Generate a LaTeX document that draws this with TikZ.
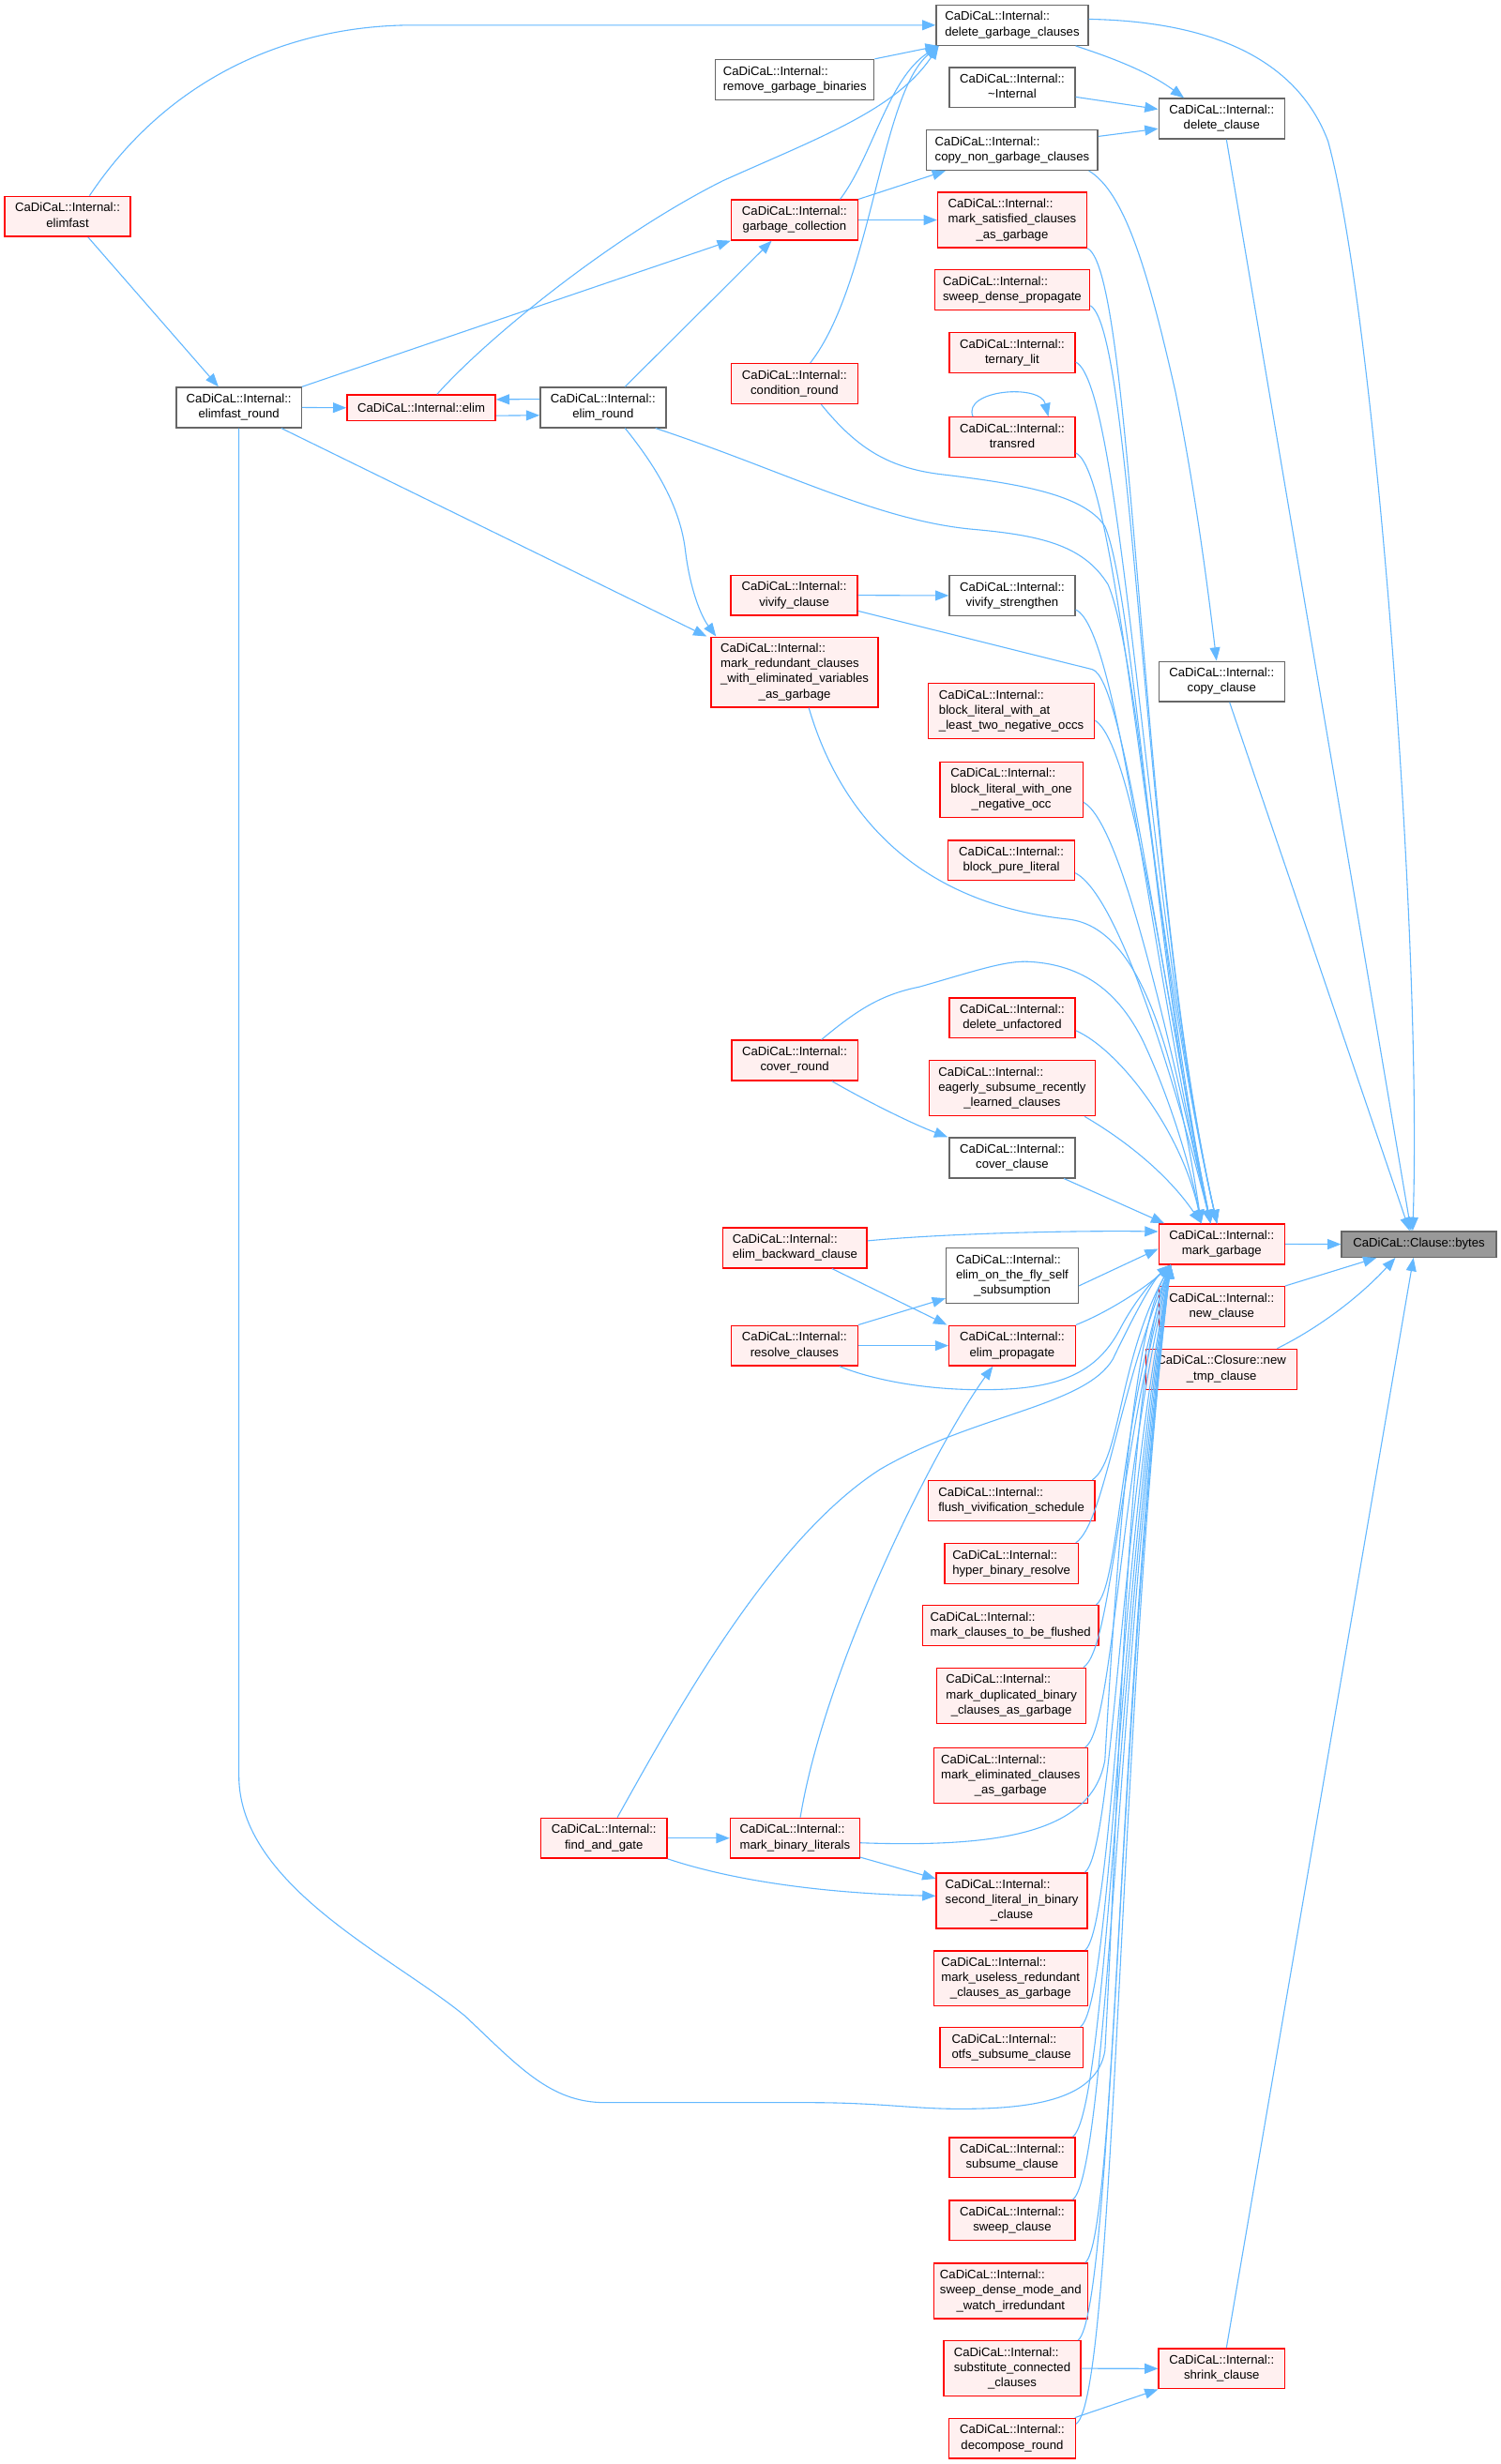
\documentclass[tikz,border=0pt]{standalone}
\usepackage{fontspec}
\setmainfont{Liberation Sans}
\usetikzlibrary{arrows.meta}
\definecolor{edgec}{HTML}{63B8FF}
\definecolor{redfill}{HTML}{FFF0F0}
\definecolor{grayb}{HTML}{666666}
\definecolor{bytesfill}{HTML}{999999}
\newcommand{\dlab}[2]{\begin{tabular}{@{}l@{}}#1\\\multicolumn{1}{@{}c@{}}{#2}\end{tabular}}
\begin{document}
\begin{tikzpicture}[x=1pt,y=-1pt,
  nd/.style={draw, line width=0.8pt, inner sep=0pt, font=\fontsize{7.85}{9.7}\selectfont, text=black},
  gn/.style={nd, draw=grayb, fill=white},
  rn/.style={nd, draw=red, fill=redfill},
  wd/.style={minimum width=#1pt},
  hone/.style={minimum height=16.3pt},
  htwo/.style={minimum height=25.6pt},
  hthree/.style={minimum height=35.2pt},
  hfour/.style={minimum height=44.6pt},
  cnx/.style={draw=edgec, line width=0.65pt, -{Triangle[length=8.5pt,width=6.5pt]}}]
\useasboundingbox (0,0) rectangle (955,1568);
\fill[white] (0,0) rectangle (955,1568);

% ---------- nodes ----------
\node[nd, draw=grayb, fill=bytesfill, wd=98.4, minimum height=16.4pt] (by) at (902.8,791.8) {CaDiCaL::Clause::bytes};
\node[rn, wd=80.1, htwo] (mg) at (777.3,791.7) {\dlab{CaDiCaL::Internal::}{mark\_garbage}};
\node[rn, wd=80.1, htwo] (nc) at (777.3,831.5) {\dlab{CaDiCaL::Internal::}{new\_clause}};
\node[rn, wd=96, htwo] (ntc) at (777.2,871.3) {\dlab{CaDiCaL::Closure::new}{\_tmp\_clause}};
\node[rn, wd=80.2, htwo] (shc) at (777.3,1507.3) {\dlab{CaDiCaL::Internal::}{shrink\_clause}};
\node[gn, wd=80.1, htwo] (cc) at (777.3,433.7) {\dlab{CaDiCaL::Internal::}{copy\_clause}};
\node[gn, wd=80.1, htwo] (dc) at (777.3,75.5) {\dlab{CaDiCaL::Internal::}{delete\_clause}};

\node[gn, wd=96.7, htwo] (dgc) at (644,16) {\dlab{CaDiCaL::Internal::}{delete\_garbage\_clauses}};
\node[gn, wd=80, htwo] (inl) at (644,55.7) {\dlab{CaDiCaL::Internal::}{\textasciitilde Internal}};
\node[gn, wd=108.8, htwo] (cng) at (644,95.5) {\dlab{CaDiCaL::Internal::}{copy\_non\_garbage\_clauses}};
\node[rn, wd=94.8, hthree] (msc) at (644,140) {\dlab{CaDiCaL::Internal::\\mark\_satisfied\_clauses}{\_as\_garbage}};
\node[rn, wd=98.8, htwo] (sdp) at (644,184.5) {\dlab{CaDiCaL::Internal::}{sweep\_dense\_propagate}};
\node[rn, wd=80, htwo] (tl) at (644,224.4) {\dlab{CaDiCaL::Internal::}{ternary\_lit}};
\node[rn, wd=80, htwo] (tr) at (644,278.3) {\dlab{CaDiCaL::Internal::}{transred}};
\node[gn, wd=80, htwo] (vs) at (644,379) {\dlab{CaDiCaL::Internal::}{vivify\_strengthen}};
\node[rn, wd=105.8, hthree] (bla) at (643.5,452.5) {\dlab{CaDiCaL::Internal::\\block\_literal\_with\_at}{\_least\_two\_negative\_occs}};
\node[rn, wd=91, hthree] (blo) at (643.5,502.5) {\dlab{CaDiCaL::Internal::\\block\_literal\_with\_one}{\_negative\_occ}};
\node[rn, wd=80.5, htwo] (bpl) at (643.5,547.5) {\dlab{CaDiCaL::Internal::}{block\_pure\_literal}};
\node[rn, wd=80.1, htwo] (du) at (644,647.8) {\dlab{CaDiCaL::Internal::}{delete\_unfactored}};
\node[rn, wd=105.4, hthree] (eag) at (644,692.5) {\dlab{CaDiCaL::Internal::\\eagerly\_subsume\_recently}{\_learned\_clauses}};
\node[gn, wd=80.1, htwo] (cvc) at (644,736.8) {\dlab{CaDiCaL::Internal::}{cover\_clause}};
\node[gn, wd=84, hthree] (eotf) at (644,811.8) {\dlab{CaDiCaL::Internal::\\elim\_on\_the\_fly\_self}{\_subsumption}};
\node[rn, wd=80.3, htwo] (ep) at (644,856.3) {\dlab{CaDiCaL::Internal::}{elim\_propagate}};
\node[rn, wd=106, htwo] (fvs) at (643.5,955) {\dlab{CaDiCaL::Internal::}{flush\_vivification\_schedule}};
\node[rn, wd=85, htwo] (hbr) at (643.5,995) {\dlab{CaDiCaL::Internal::}{hyper\_binary\_resolve}};
\node[rn, wd=112, htwo] (mcf) at (643,1034.5) {\dlab{CaDiCaL::Internal::}{mark\_clauses\_to\_be\_flushed}};
\node[rn, wd=95, hthree] (mdb) at (643.5,1079) {\dlab{CaDiCaL::Internal::\\mark\_duplicated\_binary}{\_clauses\_as\_garbage}};
\node[rn, wd=98, hthree] (mec) at (643,1130) {\dlab{CaDiCaL::Internal::\\mark\_eliminated\_clauses}{\_as\_garbage}};
\node[rn, wd=96.1, hthree] (slb) at (643.8,1209.5) {\dlab{CaDiCaL::Internal::\\second\_literal\_in\_binary}{\_clause}};
\node[rn, wd=98, hthree] (mur) at (643,1259) {\dlab{CaDiCaL::Internal::\\mark\_useless\_redundant}{\_clauses\_as\_garbage}};
\node[rn, wd=91, htwo] (otfs) at (643.5,1303) {\dlab{CaDiCaL::Internal::}{otfs\_subsume\_clause}};
\node[rn, wd=80, htwo] (sub) at (644,1373) {\dlab{CaDiCaL::Internal::}{subsume\_clause}};
\node[rn, wd=80, htwo] (swc) at (644,1413) {\dlab{CaDiCaL::Internal::}{sweep\_clause}};
\node[rn, wd=98, hthree] (sdm) at (643,1457.9) {\dlab{CaDiCaL::Internal::\\sweep\_dense\_mode\_and}{\_watch\_irredundant}};
\node[rn, wd=87.1, hthree] (scc) at (644,1507.2) {\dlab{CaDiCaL::Internal::\\substitute\_connected}{\_clauses}};
\node[rn, wd=80.3, htwo] (dr) at (644,1551.7) {\dlab{CaDiCaL::Internal::}{decompose\_round}};

\node[gn, wd=100.9, htwo] (rgb) at (505.7,50.7) {\dlab{CaDiCaL::Internal::}{remove\_garbage\_binaries}};
\node[rn, wd=80.5, htwo] (gc) at (505.5,140) {\dlab{CaDiCaL::Internal::}{garbage\_collection}};
\node[rn, wd=80.6, htwo] (cr) at (505.5,244.2) {\dlab{CaDiCaL::Internal::}{condition\_round}};
\node[rn, wd=80.5, htwo] (vc) at (505.3,378.8) {\dlab{CaDiCaL::Internal::}{vivify\_clause}};
\node[rn, wd=106.2, hfour] (mrc) at (505.6,427.7) {\dlab{CaDiCaL::Internal::\\mark\_redundant\_clauses\\\_with\_eliminated\_variables}{\_as\_garbage}};
\node[rn, wd=80.1, htwo] (cvr) at (505.6,674.8) {\dlab{CaDiCaL::Internal::}{cover\_round}};
\node[rn, wd=91.6, htwo] (ebc) at (505.8,794.1) {\dlab{CaDiCaL::Internal::}{elim\_backward\_clause}};
\node[rn, wd=80.3, htwo] (rc) at (505.5,856.3) {\dlab{CaDiCaL::Internal::}{resolve\_clauses}};
\node[rn, wd=82.4, htwo] (mbl) at (505.8,1169.7) {\dlab{CaDiCaL::Internal::}{mark\_binary\_literals}};
\node[rn, wd=80.4, htwo] (fag) at (384.2,1169.7) {\dlab{CaDiCaL::Internal::}{find\_and\_gate}};
\node[gn, wd=80, htwo] (er) at (383.7,259.3) {\dlab{CaDiCaL::Internal::}{elim\_round}};
\node[rn, wd=94.4, hone] (el) at (268,259.5) {CaDiCaL::Internal::elim};
\node[gn, wd=79.5, htwo] (efr) at (152,259.3) {\dlab{CaDiCaL::Internal::}{elimfast\_round}};
\node[rn, wd=80, htwo] (ef) at (43,137.7) {\dlab{CaDiCaL::Internal::}{elimfast}};

% ---------- edges into bytes ----------
\draw[cnx] (mg.east) -- (by.west);
\draw[cnx] (nc.north east) -- ([xshift=-27pt]by.south);
\draw[cnx] ([xshift=-13pt]ntc.north east) .. controls (845,842) and (870,820) .. ([xshift=-15pt]by.south);
\draw[cnx] ([xshift=3pt]shc.north) -- ([xshift=-3.5pt]by.south);
\draw[cnx] ([xshift=5pt]cc.south) -- ([xshift=-6pt]by.north);
\draw[cnx] ([xshift=3pt]dc.south) -- ([xshift=-5pt]by.north);
\draw[cnx] ([yshift=3.8pt]dgc.east) .. controls (790,14) and (830,50) .. (845,90) .. controls (875,200) and (905,600) .. ([xshift=-4pt]by.north);

% ---------- top right cluster ----------
\draw[cnx] ([xshift=-8.4pt]dgc.south east) .. controls (705,36) and (730,45) .. ([xshift=-24pt]dc.north);
\draw[cnx] ([yshift=-6pt]inl.east) -- ([yshift=6pt]dc.west);
\draw[cnx] ([yshift=8.7pt]cng.east) -- ([yshift=-6.4pt]dc.west);
\draw[cnx] ([xshift=-6pt]cng.south east) .. controls (715,122) and (730,170) .. (748,250) .. controls (760,310) and (768,370) .. ([xshift=-3.3pt]cc.north);

% ---------- into delete_garbage_clauses ----------
\draw[cnx] ([xshift=14pt]ef.north) .. controls (110,45) and (190,16) .. (263,16) -- (dgc.west);
\draw[cnx] (rgb.north east) -- ([xshift=2pt]dgc.south west);
\draw[cnx] ([xshift=29pt]gc.north) .. controls (555,100) and (565,50) .. ([xshift=2pt]dgc.south west);
\draw[cnx] ([xshift=10pt]cr.north) .. controls (555,180) and (560,60) .. ([xshift=2pt]dgc.south west);
\draw[cnx] ([xshift=10pt]el.north) .. controls (310,215) and (390,150) .. (460,115) .. controls (520,88) and (570,70) .. ([xshift=2pt]dgc.south west);

% ---------- left cluster ----------
\draw[cnx] (gc.east) -- (msc.west);
\draw[cnx] (gc.north east) -- ([xshift=12.4pt]cng.south west);
\draw[cnx] (efr.north east) -- (gc.south west);
\draw[cnx] ([xshift=14pt]er.north) -- ([xshift=-14.5pt]gc.south);
\draw[cnx] ([xshift=13pt]ef.south) -- ([xshift=-13pt]efr.north);
\draw[cnx] (efr.east) -- (el.west);
\draw[cnx] ([yshift=-5pt]el.east) -- ([yshift=-5pt]er.west);
\draw[cnx] ([yshift=5.3pt]er.west) -- ([yshift=5.3pt]el.east);
\draw[cnx] ([xshift=-25pt]tr.north) .. controls (612,248) and (662,244) .. ([xshift=23pt]tr.north);
\draw[cnx] (vc.east) -- (vs.west);
\draw[cnx] ([xshift=14pt]er.south) .. controls (420,300) and (433,325) .. (436,350) .. controls (439,375) and (446,392) .. ([xshift=-50pt]mrc.north);
\draw[cnx] ([xshift=27pt]efr.south) -- ([xshift=-56pt]mrc.north);
\draw[cnx] ([xshift=23.5pt]ebc.south) -- ([xshift=-1pt]ep.north west);
\draw[cnx] (rc.north east) -- ([yshift=3.6pt]eotf.south west);
\draw[cnx] (rc.east) -- (ep.west);
\draw[cnx] ([xshift=3.4pt]mbl.north) .. controls (525,1060) and (595,920) .. ([xshift=-12.3pt]ep.south);
\draw[cnx] (fag.east) -- (mbl.west);
\draw[cnx] (fag.south east) .. controls (470,1198) and (530,1205) .. ([yshift=3pt]slb.west);
\draw[cnx] ([yshift=1pt]mbl.south east) -- ([yshift=-4pt]slb.north west);
\draw[cnx] ([xshift=23.7pt]cvr.south) .. controls (550,700) and (580,715) .. ([xshift=-0.6pt]cvc.north west);
\draw[cnx] (scc.east) -- (shc.west);
\draw[cnx] ([xshift=-0.7pt]dr.north east) -- (shc.south west);

% ---------- into mark_garbage from above ----------
\draw[cnx] (msc.south east) .. controls (722,172) and (725,560) .. ([xshift=-3pt]mg.north);
\draw[cnx] ([yshift=-10pt]sdp.east) .. controls (722,212) and (727,570) .. ([xshift=-3pt]mg.north);
\draw[cnx] ([yshift=-6pt]tl.east) .. controls (715,245) and (729,580) .. ([xshift=-3pt]mg.north);
\draw[cnx] ([yshift=-10pt]tr.east) .. controls (712,300) and (731,590) .. ([xshift=-3pt]mg.north);
\draw[cnx] ([xshift=-7pt]er.south east) .. controls (500,300) and (560,332) .. (621,337) .. controls (665,341) and (690,348) .. (705,372) .. controls (725,420) and (738,620) .. ([xshift=-7pt]mg.north);
\draw[cnx] ([xshift=17pt]cr.south) .. controls (545,285) and (565,298) .. (600,302) .. controls (650,308) and (690,315) .. (703,335) .. controls (722,380) and (735,620) .. ([xshift=-7pt]mg.north);
\draw[cnx] ([yshift=-10pt]vc.east) -- (695,426) .. controls (715,432) and (736,610) .. ([xshift=-7pt]mg.north);
\draw[cnx] ([yshift=-9pt]vs.east) .. controls (712,400) and (733,620) .. ([xshift=-7pt]mg.north);
\draw[cnx] ([xshift=9pt]mrc.south) .. controls (535,520) and (585,575) .. (680,585) .. controls (720,590) and (745,650) .. ([xshift=-13pt]mg.north);
\draw[cnx] ([yshift=-6pt]bla.east) .. controls (722,475) and (742,640) .. ([xshift=-7pt]mg.north);
\draw[cnx] ([yshift=-8pt]blo.east) .. controls (715,525) and (745,670) .. ([xshift=-7pt]mg.north);
\draw[cnx] ([yshift=-8pt]bpl.east) .. controls (712,570) and (748,690) .. ([xshift=-7pt]mg.north);
\draw[cnx] ([xshift=17pt]cvr.north) .. controls (545,643) and (560,633) .. (585,628) .. controls (620,618) and (640,611) .. (655,612) .. controls (690,614) and (712,632) .. (727,662) .. controls (745,700) and (758,745) .. ([xshift=-13pt]mg.north);
\draw[cnx] ([yshift=-8pt]du.east) .. controls (712,668) and (752,720) .. ([xshift=-13pt]mg.north);
\draw[cnx] ([xshift=-7pt]eag.south east) .. controls (720,728) and (745,750) .. ([xshift=-13pt]mg.north);
\draw[cnx] ([xshift=-7.5pt]cvc.south east) -- ([xshift=4pt]mg.north west);

% ---------- into mark_garbage from the left ----------
\draw[cnx] ([yshift=4.5pt]ebc.east) .. controls (600,785) and (680,783) .. ([yshift=8pt]mg.west);
\draw[cnx] ([yshift=-6.5pt]eotf.east) -- ([yshift=-3pt]mg.west);

% ---------- into mark_garbage from below ----------
\draw[cnx] (ep.north east) .. controls (705,835) and (728,820) .. ([xshift=8pt]mg.south west);
\draw[cnx] ([xshift=28.7pt]rc.south) .. controls (560,880) and (600,886) .. (640,884) .. controls (680,882) and (700,870) .. (713,845) .. controls (722,828) and (733,815) .. ([xshift=8pt]mg.south west);
\draw[cnx] ([xshift=8.6pt]fag.north) .. controls (430,1090) and (490,980) .. (560,935) .. controls (620,900) and (690,895) .. (708,865) .. controls (720,840) and (733,815) .. ([xshift=8pt]mg.south west);
\draw[cnx] ([yshift=-3pt]mbl.east) .. controls (640,1176) and (695,1165) .. (703,1120) .. controls (710,1000) and (720,850) .. ([xshift=8pt]mg.south west);
\draw[cnx] (efr.south) -- (152,1130) .. controls (152,1200) and (250,1245) .. (296,1283) .. controls (330,1315) and (350,1338) .. (385,1338) -- (515,1338) .. controls (560,1338) and (580,1342) .. (611,1342) .. controls (660,1342) and (698,1335) .. (703,1305) .. controls (712,1150) and (716,880) .. ([xshift=8pt]mg.south west);
\draw[cnx] ([xshift=-2pt]fvs.north east) .. controls +(18,-12) and +(-33,60) .. ([xshift=8pt]mg.south west);
\draw[cnx] ([xshift=-2pt]hbr.north east) .. controls +(18,-12) and +(-33,80) .. ([xshift=8pt]mg.south west);
\draw[cnx] ([xshift=-2pt]mcf.north east) .. controls +(15,-12) and +(-33,100) .. ([xshift=8pt]mg.south west);
\draw[cnx] ([xshift=-2pt]mdb.north east) .. controls +(18,-12) and +(-33,120) .. ([xshift=8pt]mg.south west);
\draw[cnx] ([xshift=-2pt]mec.north east) .. controls +(18,-12) and +(-33,140) .. ([xshift=8pt]mg.south west);
\draw[cnx] ([xshift=-2pt]slb.north east) .. controls +(18,-15) and +(-33,170) .. ([xshift=8pt]mg.south west);
\draw[cnx] ([xshift=-2pt]mur.north east) .. controls +(18,-15) and +(-33,190) .. ([xshift=8pt]mg.south west);
\draw[cnx] ([xshift=-2pt]otfs.north east) .. controls +(20,-15) and +(-33,210) .. ([xshift=8pt]mg.south west);
\draw[cnx] ([xshift=-2pt]sub.north east) .. controls +(22,-15) and +(-33,230) .. ([xshift=8pt]mg.south west);
\draw[cnx] ([xshift=-2pt]swc.north east) .. controls +(22,-15) and +(-33,250) .. ([xshift=8pt]mg.south west);
\draw[cnx] ([xshift=-2pt]sdm.north east) .. controls +(20,-15) and +(-33,260) .. ([xshift=8pt]mg.south west);
\draw[cnx] ([xshift=-2pt]scc.north east) .. controls +(22,-18) and +(-33,270) .. ([xshift=8pt]mg.south west);
\draw[cnx] ([yshift=-4pt]dr.north east) .. controls +(25,-15) and +(-33,280) .. ([xshift=8pt]mg.south west);
\end{tikzpicture}
\end{document}
